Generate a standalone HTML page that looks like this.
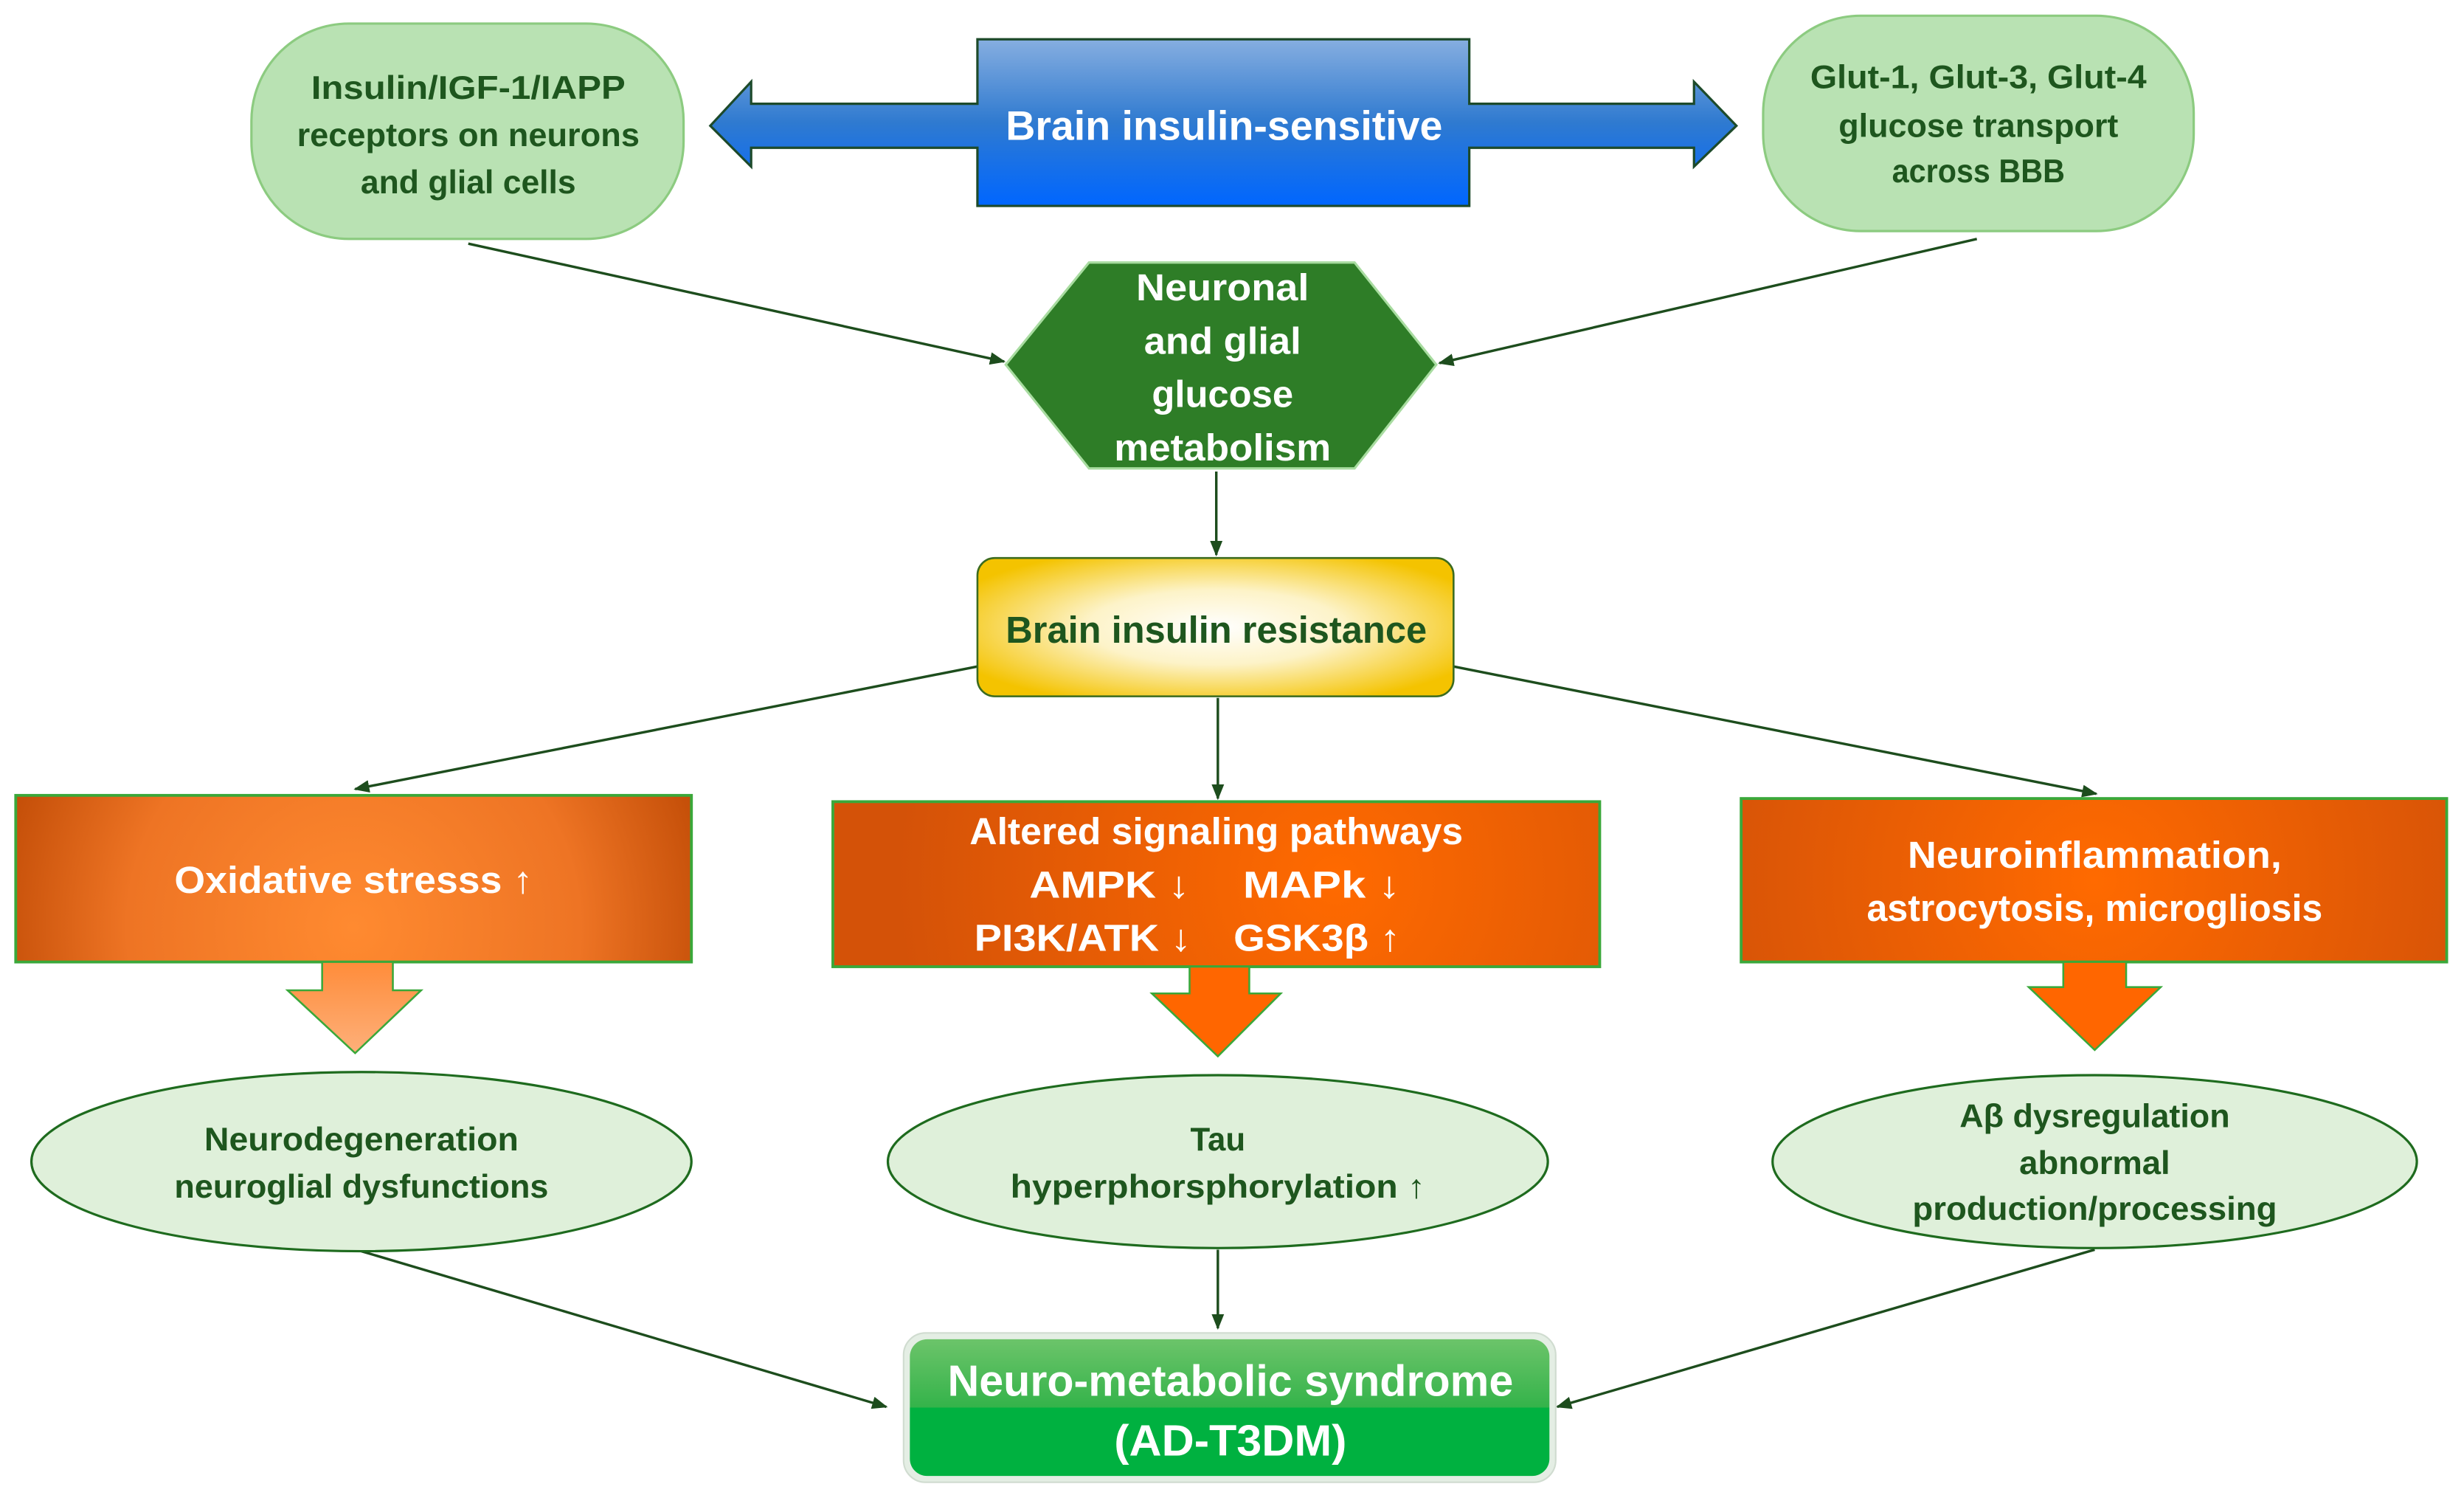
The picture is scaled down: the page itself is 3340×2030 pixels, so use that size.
<!DOCTYPE html>
<html><head><meta charset="utf-8"><style>html,body{margin:0;padding:0;background:#fff}svg{display:block}</style></head>
<body>
<svg width="3340" height="2030" viewBox="0 0 1568 953" xmlns="http://www.w3.org/2000/svg" font-family="Liberation Sans, sans-serif" font-weight="bold">
<defs>
<linearGradient id="blue" x1="0" y1="0" x2="0" y2="1"><stop offset="0" stop-color="#86aee0"/><stop offset="0.5" stop-color="#2f7ad0"/><stop offset="1" stop-color="#0066ff"/></linearGradient>
<radialGradient id="yel" cx="0.5" cy="0.5" r="0.6"><stop offset="0" stop-color="#ffffff"/><stop offset="0.45" stop-color="#fdf3c8"/><stop offset="1" stop-color="#f4c300"/></radialGradient>
<radialGradient id="or1" gradientUnits="userSpaceOnUse" cx="225" cy="590" r="240"><stop offset="0" stop-color="#ff8a30"/><stop offset="0.6" stop-color="#ee7424"/><stop offset="1" stop-color="#bf4a05"/></radialGradient>
<radialGradient id="or2" gradientUnits="userSpaceOnUse" cx="850" cy="560" r="280"><stop offset="0" stop-color="#ff6a00"/><stop offset="1" stop-color="#d45208"/></radialGradient>
<radialGradient id="or3" gradientUnits="userSpaceOnUse" cx="1333" cy="560" r="260"><stop offset="0" stop-color="#ff6a00"/><stop offset="1" stop-color="#d45208"/></radialGradient>
<linearGradient id="arr1" x1="0" y1="0" x2="0" y2="1"><stop offset="0" stop-color="#ff8c3a"/><stop offset="1" stop-color="#fdb07a"/></linearGradient>
<linearGradient id="grn" x1="0" y1="0" x2="0" y2="1"><stop offset="0" stop-color="#6cc46a"/><stop offset="0.5" stop-color="#34b34a"/><stop offset="0.5" stop-color="#00b140"/><stop offset="1" stop-color="#00b140"/></linearGradient>
<marker id="ah" markerWidth="10" markerHeight="8" refX="9" refY="4" orient="auto" markerUnits="userSpaceOnUse"><path d="M0,0 L10,4 L0,8 z" fill="#1d4d1d"/></marker>
</defs>

<path d="M452,80 L478,52 L478,66 L622,66 L622,25 L935,25 L935,66 L1078,66 L1078,52 L1105,80 L1078,106 L1078,94 L935,94 L935,131 L622,131 L622,94 L478,94 L478,106 Z" fill="url(#blue)" stroke="#1d4a2a" stroke-width="1.5"/>
<text x="779" y="89" fill="#fff" font-size="26" text-anchor="middle" textLength="278" lengthAdjust="spacingAndGlyphs">Brain insulin-sensitive</text>

<rect x="160" y="15" width="275" height="137" rx="62" ry="62" fill="#b9e2b3" stroke="#8ccb80" stroke-width="1.5"/>
<g fill="#1e561e" font-size="21" text-anchor="middle">
<text x="298" y="63" textLength="200" lengthAdjust="spacingAndGlyphs">Insulin/IGF-1/IAPP</text>
<text x="298" y="93" textLength="218" lengthAdjust="spacingAndGlyphs">receptors on neurons</text>
<text x="298" y="123" textLength="137" lengthAdjust="spacingAndGlyphs">and glial cells</text>
</g>
<rect x="1122" y="10" width="274" height="137" rx="62" ry="62" fill="#b9e2b3" stroke="#8ccb80" stroke-width="1.5"/>
<g fill="#1e561e" font-size="21" text-anchor="middle">
<text x="1259" y="56" textLength="214" lengthAdjust="spacingAndGlyphs">Glut-1, Glut-3, Glut-4</text>
<text x="1259" y="87" textLength="178" lengthAdjust="spacingAndGlyphs">glucose transport</text>
<text x="1259" y="116" textLength="110" lengthAdjust="spacingAndGlyphs">across BBB</text>
</g>

<path d="M640,232 L693,167 L862,167 L914,232 L862,298 L693,298 Z" fill="#2e7d27" stroke="#a8dca0" stroke-width="1.5"/>
<g fill="#fff" font-size="24" text-anchor="middle">
<text x="778" y="191" textLength="110" lengthAdjust="spacingAndGlyphs">Neuronal</text>
<text x="778" y="225" textLength="100" lengthAdjust="spacingAndGlyphs">and glial</text>
<text x="778" y="259" textLength="90" lengthAdjust="spacingAndGlyphs">glucose</text>
<text x="778" y="293" textLength="138" lengthAdjust="spacingAndGlyphs">metabolism</text>
</g>

<g stroke="#1d4d1d" stroke-width="1.6" fill="none" marker-end="url(#ah)">
<line x1="298" y1="155" x2="639" y2="230"/>
<line x1="1258" y1="152" x2="916" y2="231"/>
<line x1="774" y1="300" x2="774" y2="353"/>
<line x1="622" y1="424" x2="226" y2="502"/>
<line x1="775" y1="444" x2="775" y2="508"/>
<line x1="925" y1="424" x2="1334" y2="505"/>
<line x1="230" y1="796" x2="564" y2="895"/>
<line x1="775" y1="795" x2="775" y2="845"/>
<line x1="1333" y1="795" x2="991" y2="895"/>
</g>

<rect x="622" y="355" width="303" height="88" rx="11" fill="url(#yel)" stroke="#3b6b1f" stroke-width="1.2"/>
<text x="774" y="409" fill="#1e561e" font-size="24" text-anchor="middle" textLength="268" lengthAdjust="spacingAndGlyphs">Brain insulin resistance</text>

<rect x="10" y="506" width="430" height="106" fill="url(#or1)" stroke="#3aa83a" stroke-width="1.8"/>
<text x="225" y="568" fill="#fff" font-size="24" text-anchor="middle" textLength="228" lengthAdjust="spacingAndGlyphs">Oxidative stresss ↑</text>
<path d="M205,612 L250,612 L250,630 L268,630 L226,670 L183,630 L205,630 Z" fill="url(#arr1)" stroke="#3aa83a" stroke-width="1.2"/>

<rect x="530" y="510" width="488" height="105" fill="url(#or2)" stroke="#3aa83a" stroke-width="1.8"/>
<g fill="#fff" font-size="24" text-anchor="middle">
<text x="774" y="537" textLength="314" lengthAdjust="spacingAndGlyphs">Altered signaling pathways</text>
<text x="706" y="571" textLength="102" lengthAdjust="spacingAndGlyphs">AMPK ↓</text>
<text x="841" y="571" textLength="100" lengthAdjust="spacingAndGlyphs">MAPk ↓</text>
<text x="689" y="605" textLength="138" lengthAdjust="spacingAndGlyphs">PI3K/ATK ↓</text>
<text x="838" y="605" textLength="106" lengthAdjust="spacingAndGlyphs">GSK3β ↑</text>
</g>
<path d="M757,615 L795,615 L795,632 L815,632 L775,672 L733,632 L757,632 Z" fill="#ff6600" stroke="#3aa83a" stroke-width="1.2"/>

<rect x="1108" y="508" width="449" height="104" fill="url(#or3)" stroke="#3aa83a" stroke-width="1.8"/>
<g fill="#fff" font-size="24" text-anchor="middle">
<text x="1333" y="552" textLength="238" lengthAdjust="spacingAndGlyphs">Neuroinflammation,</text>
<text x="1333" y="586" textLength="290" lengthAdjust="spacingAndGlyphs">astrocytosis, microgliosis</text>
</g>
<path d="M1313,612 L1353,612 L1353,628 L1375,628 L1333,668 L1291,628 L1313,628 Z" fill="#ff6600" stroke="#3aa83a" stroke-width="1.2"/>

<ellipse cx="230" cy="739" rx="210" ry="57" fill="#dff0da" stroke="#1e6b1e" stroke-width="1.5"/>
<g fill="#1e561e" font-size="21" text-anchor="middle">
<text x="230" y="732" textLength="200" lengthAdjust="spacingAndGlyphs">Neurodegeneration</text>
<text x="230" y="762" textLength="238" lengthAdjust="spacingAndGlyphs">neuroglial dysfunctions</text>
</g>
<ellipse cx="775" cy="739" rx="210" ry="55" fill="#dff0da" stroke="#1e6b1e" stroke-width="1.5"/>
<g fill="#1e561e" font-size="21" text-anchor="middle">
<text x="775" y="732" textLength="35" lengthAdjust="spacingAndGlyphs">Tau</text>
<text x="775" y="762" textLength="264" lengthAdjust="spacingAndGlyphs">hyperphorsphorylation ↑</text>
</g>
<ellipse cx="1333" cy="739" rx="205" ry="55" fill="#dff0da" stroke="#1e6b1e" stroke-width="1.5"/>
<g fill="#1e561e" font-size="21" text-anchor="middle">
<text x="1333" y="717" textLength="172" lengthAdjust="spacingAndGlyphs">Aβ dysregulation</text>
<text x="1333" y="747" textLength="96" lengthAdjust="spacingAndGlyphs">abnormal</text>
<text x="1333" y="776" textLength="232" lengthAdjust="spacingAndGlyphs">production/processing</text>
</g>

<rect x="575" y="848" width="415" height="95" rx="14" fill="#e4eee4" stroke="#d0dcd0" stroke-width="1"/>
<rect x="579" y="852" width="407" height="87" rx="11" fill="url(#grn)"/>
<g fill="#fff" font-size="28" text-anchor="middle">
<text x="783" y="888" textLength="360" lengthAdjust="spacingAndGlyphs">Neuro-metabolic syndrome</text>
<text x="783" y="926" textLength="148" lengthAdjust="spacingAndGlyphs">(AD-T3DM)</text>
</g>
</svg>
</body></html>
